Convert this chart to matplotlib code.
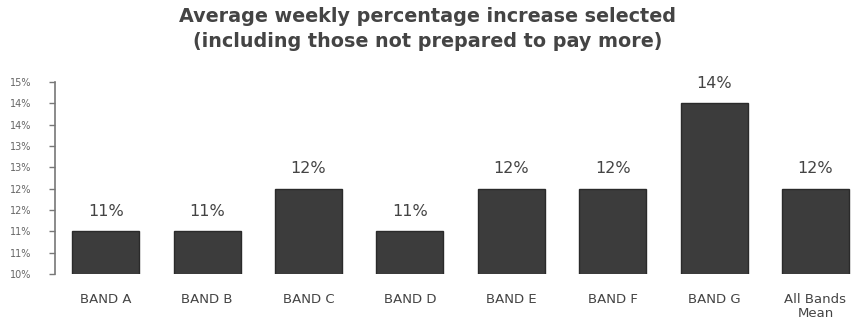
import matplotlib
matplotlib.use('Agg')
import matplotlib.pyplot as plt
from matplotlib.ticker import FuncFormatter, MultipleLocator

# Data
bands = ['BAND A', 'BAND B', 'BAND C', 'BAND D', 'BAND E', 'BAND F', 'BAND G', 'All Bands\nMean']
increase = [11.0, 11.0, 12.0, 11.0, 12.0, 12.0, 14.0, 12.0]
value_labels = ['11%', '11%', '12%', '11%', '12%', '12%', '14%', '12%']

title = 'Average weekly percentage increase selected\n(including those not prepared to pay more)'

text_col = '#444444'
bar_col = '#3c3c3c'

fig = plt.figure(figsize=(8.55, 3.34), dpi=100)
ax = fig.add_axes([55/855, 60/334, 1 - 55/855, (274 - 82)/334])

x = range(len(bands))
bars = ax.bar(x, increase, width=0.66, color=bar_col, edgecolor='#2a2a2a', linewidth=1.0)

for xi, v, lab in zip(x, increase, value_labels):
	ax.annotate(lab, (xi, v), xytext=(0, 9), textcoords='offset points',
		ha='center', va='bottom', fontsize=11.5, color=text_col)

ax.set_ylim(10, 14.5)
ax.set_xlim(-0.5, 7.39)
ax.yaxis.set_major_locator(MultipleLocator(0.5))
# Excel-style rounding of the tick labels (10.5 -> 11%)
ax.yaxis.set_major_formatter(FuncFormatter(lambda v, p: '%d%%' % int(v + 0.5)))

ax.set_xticks(list(x))
ax.set_xticklabels(bands, fontsize=9.5, color=text_col, linespacing=1.1)
ax.tick_params(axis='x', length=0, pad=14)
ax.tick_params(axis='y', length=4, width=1, color='#777777', labelsize=7,
	labelcolor='#666666', pad=13, direction='out')

for s in ['top', 'right', 'bottom']:
	ax.spines[s].set_visible(False)
ax.spines['left'].set_color('#777777')
ax.spines['left'].set_linewidth(1.2)

fig.text(0.5, 0.978, title, ha='center', va='top', fontsize=13.8,
	fontweight='heavy', color=text_col, linespacing=1.35)

fig.savefig('out.png', dpi=100)
